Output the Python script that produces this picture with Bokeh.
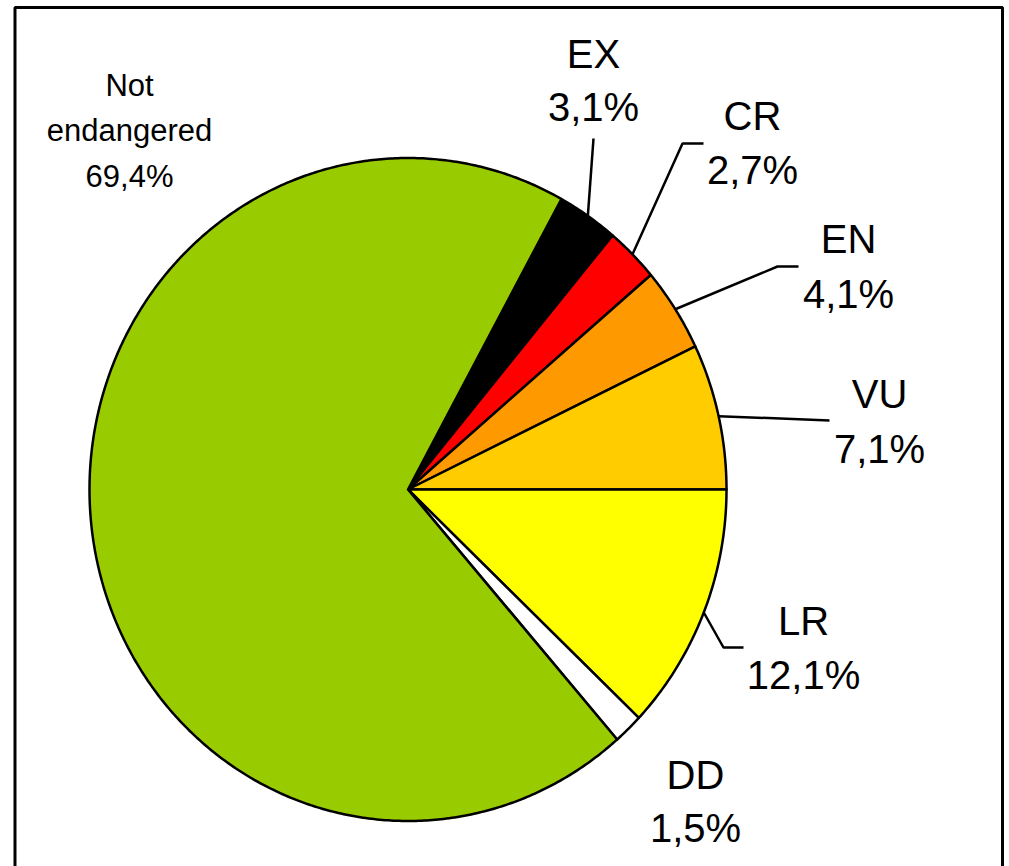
import numpy as np
from bokeh.plotting import figure
from bokeh.models import ColumnDataSource, Range1d, BoxAnnotation
from bokeh.core.properties import value
from bokeh.embed import file_html
from bokeh.resources import INLINE

# ---- data (clockwise order, starting at the EX slice) ----
categories = ["EX", "CR", "EN", "VU", "LR", "DD", "Not endangered"]
shares = [3.1, 2.7, 4.1, 7.1, 12.1, 1.5, 69.4]
colors = ["#000000", "#FF0000", "#FF9900", "#FFCC00", "#FFFF00", "#FFFFFF", "#99CC00"]

# ---- layout (image pixel coordinates) ----
CX, CY = 407.5, 489.0
RX, RY = 318.5, 331.5
START_DEG = 61.2            # angle where the first slice begins, clockwise after
FONT = "Liberation Sans"
BASE_SHIFT = 0.35           # fraction of font size the renderer puts text low

# label anchor: (x centre, baseline of name, baseline of value, font size)
label_pos = {
    "EX": (593, 67, 120, 40),
    "CR": (752, 129, 183, 40),
    "EN": (848, 252, 307, 40),
    "VU": (879, 407, 462, 40),
    "LR": (803, 634, 688, 40),
    "DD": (695, 788, 841, 40),
}
not_pos = (129, [96, 141, 187], 31)

# leader elbows (after the point on the slice edge)
leader_elbows = {
    "EX": [(593, 138)],
    "CR": [(682, 143), (703, 143)],
    "EN": [(777, 266), (798, 266)],
    "VU": [(829, 420)],
    "LR": [(723, 647), (743, 647)],
}

W, H = 1009, 866
p = figure(width=W, height=H, x_range=Range1d(0, W), y_range=Range1d(H, 0),
           x_axis_type=None, y_axis_type=None, toolbar_location=None,
           output_backend="svg", min_border=0)
p.outline_line_color = None
p.grid.visible = False
p.background_fill_color = "white"
p.border_fill_color = "white"

# ---- slices ----
total = float(sum(shares))
xs, ys, mids = [], [], {}
a = np.radians(START_DEG)
for cat, s in zip(categories, shares):
    span = 2 * np.pi * s / total
    n = max(8, int(np.degrees(span) * 2))
    th = np.linspace(a, a - span, n)
    xs.append([CX] + list(CX + RX * np.cos(th)))
    ys.append([CY] + list(CY - RY * np.sin(th)))
    mids[cat] = a - span / 2
    a -= span

src = ColumnDataSource(dict(xs=xs, ys=ys, color=colors, cat=categories))
p.patches("xs", "ys", source=src, fill_color="color", line_color="black",
          line_width=2.5, line_join="round")

# ---- leader lines ----
for cat, elbows in leader_elbows.items():
    m = mids[cat]
    lx = [CX + RX * np.cos(m)] + [e[0] for e in elbows]
    ly = [CY - RY * np.sin(m)] + [e[1] for e in elbows]
    p.line(lx, ly, line_color="black", line_width=2.5)

# ---- labels ----
def fmt(v):
    return f"{v:.1f}".replace(".", ",") + "%"

for cat, s in zip(categories, shares):
    if cat in label_pos:
        x, b1, b2, fs = label_pos[cat]
        d = BASE_SHIFT * fs
        p.text(x=[x, x], y=[b1 - d, b2 - d], text=[cat, fmt(s)], text_align="center",
               text_baseline="alphabetic", text_font=value(FONT),
               text_font_size=f"{fs}px", text_color="black")
    else:
        x, bl, fs = not_pos
        d = BASE_SHIFT * fs
        p.text(x=[x] * 3, y=[b - d for b in bl], text=["Not", "endangered", fmt(s)],
               text_align="center", text_baseline="alphabetic",
               text_font=value(FONT), text_font_size=f"{fs}px", text_color="black")

# ---- frame ----
p.add_layout(BoxAnnotation(left=14.5, right=1002, top=7, bottom=900,
                           fill_color=None, fill_alpha=0, line_color="black",
                           line_alpha=1.0, line_width=3))

open("out.html", "w").write(file_html(p, INLINE))
